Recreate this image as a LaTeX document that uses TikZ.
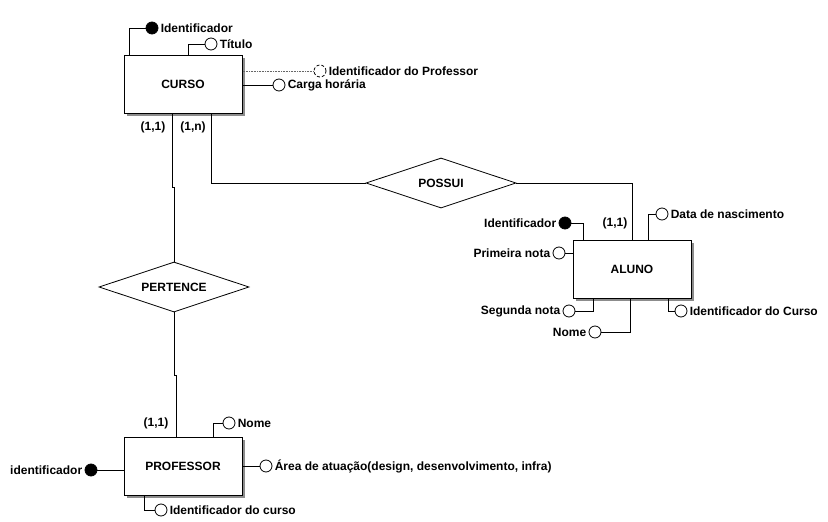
\documentclass[tikz,border=0pt]{standalone}
\usepackage{fontspec}
\setmainfont{Liberation Sans}
\usetikzlibrary{shapes.geometric,shadows}

\tikzset{
  txt/.style={font={\fontsize{12}{14}\selectfont\bfseries}},
  entidade/.style={txt, draw, fill=white, line width=1pt, minimum width=118pt, minimum height=58pt, inner sep=0pt,
    drop shadow={shadow xshift=3pt, shadow yshift=-3pt, fill=black!45, opacity=1}},
  relacao/.style={txt, draw, fill=white, diamond, aspect=3, minimum width=150pt, minimum height=50pt, inner sep=0pt},
  atrib/.style={draw, circle, fill=white, minimum size=12pt, inner sep=0pt},
  chave/.style={atrib, fill=black},
  derivado/.style={atrib, densely dashed},
  card/.style={txt, inner sep=0pt},
  lbl/.style={txt, inner sep=2pt},
}

\begin{document}
\begin{tikzpicture}[x=1pt,y=-1pt,line width=0.8pt]
          \useasboundingbox (0,0) rectangle (828,522);
          % entidades e relacoes
          \node[entidade] (curso) at (183,84) {CURSO};
          \node[entidade] (aluno) at (632,269) {ALUNO};
          \node[entidade] (professor) at (183,466) {PROFESSOR};
          \node[relacao] (possui) at (441,183) {POSSUI};
          \node[relacao] (pertence) at (174,287) {PERTENCE};
          \draw ([xshift=28pt]curso.south) |- (possui.west);
          \draw (possui.east) -| (aluno.north);
          \draw ([xshift=-11pt]curso.south) -- ++(0,74) -| (pertence.north);
          \draw (pertence.south) -- ++(0,63) -| ([xshift=-7pt]professor.north);
          \node[card] (c11) at (153,127) {(1,1)};
          \node[card] (c1n) at (193,127) {(1,n)};
          \node[card] (a11) at (615,223) {(1,1)};
          \node[card] (p11) at (156,423) {(1,1)};
          % atributos de CURSO
          \node[chave] (cid) at (152,28) {};
          \node[lbl, right] at (cid.east) {Identificador};
          \node[atrib] (ctitulo) at (211,44) {};
          \node[lbl, right] at (ctitulo.east) {Título};
          \node[derivado] (cprof) at (320,71) {};
          \node[lbl, right] at (cprof.east) {Identificador do Professor};
          \node[atrib] (ccarga) at (279,85) {};
          \node[lbl, right] at (ccarga.east) {Carga horária};
          \draw ([xshift=-54pt]curso.north) |- (cid);
          \draw ([xshift=5pt]curso.north) |- (ctitulo);
          \draw[densely dotted, line width=0.6pt, black!60] (curso.east |- cprof) -- (cprof);
          \draw (curso.east |- ccarga) -- (ccarga);
          % atributos de ALUNO
          \node[chave] (aid) at (565,223) {};
          \node[lbl, left] at (aid.west) {Identificador};
          \node[atrib] (anota1) at (559,253) {};
          \node[lbl, left] at (anota1.west) {Primeira nota};
          \node[atrib] (anasc) at (662,214) {};
          \node[lbl, right] at (anasc.east) {Data de nascimento};
          \node[atrib] (anota2) at (569,311) {};
          \node[lbl, left] at (anota2.west) {Segunda nota};
          \node[atrib] (anome) at (595,332) {};
          \node[lbl, left] at (anome.west) {Nome};
          \node[atrib] (acurso) at (681,311) {};
          \node[lbl, right] at (acurso.east) {Identificador do Curso};
          \draw (aid) -| ([xshift=-49pt]aluno.north);
          \draw (anota1) -- (aluno.west |- anota1);
          \draw ([xshift=16pt]aluno.north) |- (anasc);
          \draw (anota2) -| ([xshift=-39pt]aluno.south);
          \draw (anome) -| ([xshift=-2pt]aluno.south);
          \draw ([xshift=36pt]aluno.south) |- (acurso);
          % atributos de PROFESSOR
          \node[atrib] (pnome) at (229,423) {};
          \node[lbl, right] at (pnome.east) {Nome};
          \node[atrib] (parea) at (266,466) {};
          \node[lbl, right] at (parea.east) {Área de atuação(design, desenvolvimento, infra)};
          \node[chave] (pid) at (91,470) {};
          \node[lbl, left] at (pid.west) {identificador};
          \node[atrib] (pcurso) at (161,510) {};
          \node[lbl, right] at (pcurso.east) {Identificador do curso};
          \draw ([xshift=30pt]professor.north) |- (pnome);
          \draw (professor.east) -- (parea);
          \draw (pid) -- (professor.west |- pid);
          \draw ([xshift=-39pt]professor.south) |- (pcurso);
        \end{tikzpicture}
\end{document}
